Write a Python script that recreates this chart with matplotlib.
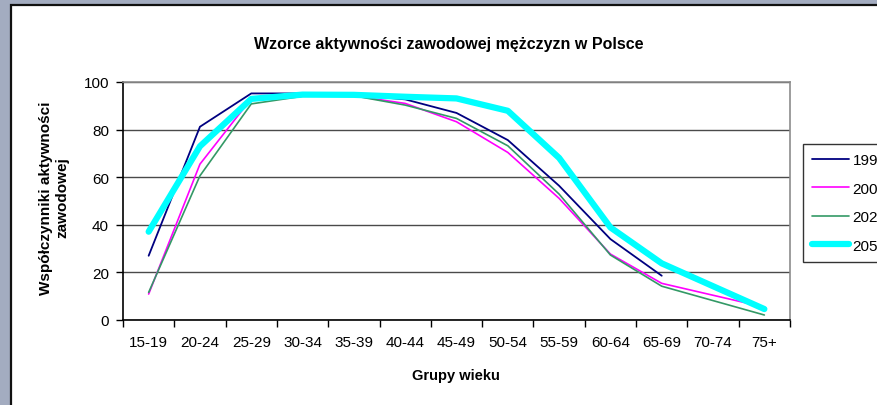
import matplotlib
matplotlib.use("Agg")
import matplotlib.pyplot as plt
from matplotlib.patches import Rectangle
import numpy as np

plt.rcParams['font.family'] = ['Liberation Sans', 'DejaVu Sans']

categories = ["15-19", "20-24", "25-29", "30-34", "35-39", "40-44", "45-49",
              "50-54", "55-59", "60-64", "65-69", "70-74", "75+"]

s1995 = [27.0, 81.2, 95.2, 95.2, 94.6, 92.7, 87.0, 75.6, 56.4, 34.0, 18.6, None, None]
s2000 = [10.9, 65.5, 93.0, 95.0, 94.2, 91.0, 83.3, 70.4, 51.1, 27.7, 15.4, None, 5.4]
s2020 = [11.6, 60.6, 90.8, 94.0, 94.2, 90.3, 84.7, 73.2, 52.9, 27.3, 14.2, None, 2.1]
s2050 = [37.1, 73.0, 92.9, 94.7, 94.6, 93.8, 93.1, 87.9, 68.1, 38.9, 23.8, None, 4.6]

labels = ["1995", "2000", "2020", "2050"]
series = [s1995, s2000, s2020, s2050]
colors = ["#000080", "#FF00FF", "#339966", "#00FFFF"]
widths = [1.3, 1.2, 1.2, 4.5]

W, H = 878, 406
fig = plt.figure(figsize=(W / 100, H / 100), dpi=100)
fig.patch.set_facecolor("#A3ACC0")
fig.patches.append(Rectangle((11 / W, -0.1), 1, 1.1 - 6 / H, transform=fig.transFigure,
                             facecolor="white", edgecolor="#111111", linewidth=1.6,
                             zorder=-5))

ax = fig.add_axes([123 / W, 1 - 321 / H, (790 - 123) / W, (321 - 83) / H])
ax.set_zorder(2)
ax.set_facecolor("white")

x_all = np.arange(len(categories))
for vals, lab, c, lw in zip(series, labels, colors, widths):
    xs = [x for x, v in zip(x_all, vals) if v is not None]
    ys = [v for v in vals if v is not None]
    ax.plot(xs, ys, color=c, linewidth=lw, label=lab, solid_capstyle="round",
            solid_joinstyle="miter" if lw < 2 else "round", zorder=3)

ax.set_xlim(-0.5, len(categories) - 0.5)
ax.set_ylim(0, 100)
ax.set_yticks(np.arange(0, 101, 20))
ax.set_xticks(x_all)
ax.set_xticklabels(categories)
ax.set_xticks(np.arange(-0.5, len(categories), 1), minor=True)
ax.tick_params(axis="x", which="major", length=0, pad=11, labelsize=11)
ax.tick_params(axis="x", which="minor", length=5, width=1, color="black", direction="out")
ax.tick_params(axis="y", length=5, width=1, color="black", pad=5, labelsize=11)
ax.yaxis.grid(True, color="#4a4a4a", linewidth=1)
ax.set_axisbelow(True)
for s in ["top", "right"]:
    ax.spines[s].set_color("#8c8c8c")
    ax.spines[s].set_linewidth(1.2)
for s in ["left", "bottom"]:
    ax.spines[s].set_color("black")
    ax.spines[s].set_linewidth(1.2)

fig.text(449 / W, 1 - 44 / H, "Wzorce aktywności zawodowej mężczyzn w Polsce",
         ha="center", va="center", fontsize=11.5, fontweight="bold")
fig.text(456 / W, 1 - 376 / H, "Grupy wieku", ha="center", va="center",
         fontsize=10.5, fontweight="bold")
fig.text(54 / W, 1 - 198 / H, "Współczynniki aktywności\nzawodowej", ha="center",
         va="center", rotation=90, fontsize=11, fontweight="bold", linespacing=1.2)

leg = fig.legend(loc="upper left", bbox_to_anchor=(803 / W, 1 - 145 / H),
                 frameon=True, fancybox=False, fontsize=11, handlelength=2.4,
                 handletextpad=0.25, borderpad=0.6, labelspacing=0.95,
                 borderaxespad=0)
leg.get_frame().set_edgecolor("black")
leg.get_frame().set_linewidth(1.0)

fig.savefig("out.png", dpi=100)
